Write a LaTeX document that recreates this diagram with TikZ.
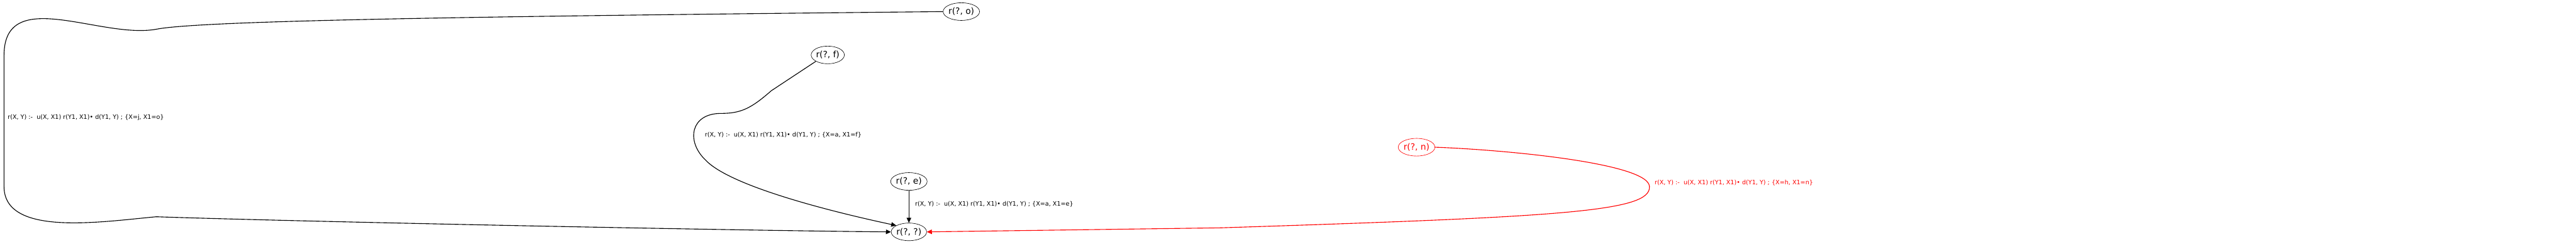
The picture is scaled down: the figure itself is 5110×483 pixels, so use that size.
\documentclass[tikz,border=0pt]{standalone}
\usepackage{fontspec}
\setmainfont{DejaVu Sans}
\usetikzlibrary{shapes.geometric,arrows.meta}

\begin{document}
\begin{tikzpicture}[x=0.5pt,y=-0.5pt,
    goal/.style={draw, ellipse, minimum width=31.5pt, minimum height=17.5pt, inner sep=0pt, font=\fontsize{8.6}{9}\selectfont},
    rulelbl/.style={anchor=west, inner sep=0pt, font=\fontsize{6}{7}\selectfont},
    edge/.style={-{Triangle[length=5pt,width=4.5pt]}, line width=0.7pt}]
    \useasboundingbox (0,0) rectangle (5110,483);

    \node[goal] (ro) at (1907,23) {r(?, o)};
    \node[goal] (rf) at (1642,109) {r(?, f)};
    \node[goal] (re) at (1803,360) {r(?, e)};
    \node[goal, red] (rn) at (2810,292) {r(?, n)};
    \node[goal] (rq) at (1803,460) {r(?, ?)};

    \draw[edge] (ro.west) .. controls (1000,32) and (400,40) .. (310,58)
        .. controls (200,78) and (8,-30) .. (8,110) -- (8,370)
        .. controls (8,470) and (200,440) .. (310,430)
        .. controls (600,440) and (1500,458) .. (rq.west);
    \node[rulelbl] (lo) at (15,233) {r(X, Y) :-\ \ u(X, X1) r(Y1, X1)• d(Y1, Y) ; \{X=j, X1=o\}};

    \draw[edge] (rf.south west) -- (1530,180)
        .. controls (1490,215) and (1470,225) .. (1430,225)
        .. controls (1370,225) and (1360,280) .. (1400,318)
        .. controls (1450,370) and (1650,420) .. (rq.north west);
    \node[rulelbl] (lf) at (1398,268) {r(X, Y) :-\ \ u(X, X1) r(Y1, X1)• d(Y1, Y) ; \{X=a, X1=f\}};

    \draw[edge] (re) -- (rq);
    \node[rulelbl] (le) at (1815,405) {r(X, Y) :-\ \ u(X, X1) r(Y1, X1)• d(Y1, Y) ; \{X=a, X1=e\}};

    \draw[edge, red] (rn.east) .. controls (3000,298) and (3270,325) .. (3272,370)
        .. controls (3275,420) and (3100,430) .. (2420,452)
        -- (rq.east);
    \node[rulelbl, red] (ln) at (3282,362) {r(X, Y) :-\ \ u(X, X1) r(Y1, X1)• d(Y1, Y) ; \{X=h, X1=n\}};
\end{tikzpicture}
\end{document}
